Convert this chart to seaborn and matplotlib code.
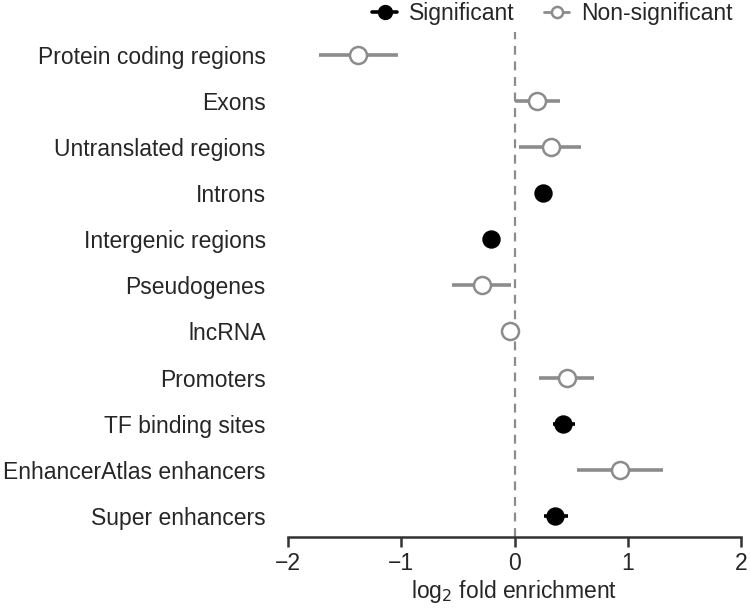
import pandas as pd
import matplotlib.pyplot as plt
import seaborn as sns
from matplotlib.lines import Line2D

sns.set_style("ticks")
plt.rcParams['font.family'] = ['Liberation Sans', 'DejaVu Sans']

# Data
categories = ["Protein coding regions", "Exons", "Untranslated regions", "Introns",
              "Intergenic regions", "Pseudogenes", "lncRNA", "Promoters",
              "TF binding sites", "EnhancerAtlas enhancers", "Super enhancers"]
log2_fe = [-1.38, 0.20, 0.32, 0.25, -0.21, -0.29, -0.04, 0.46, 0.43, 0.93, 0.36]
ci_low = [-1.73, 0.00, 0.04, 0.22, -0.24, -0.55, -0.07, 0.22, 0.34, 0.55, 0.26]
ci_high = [-1.03, 0.40, 0.59, 0.28, -0.18, -0.03, -0.01, 0.70, 0.53, 1.31, 0.47]
significant = [False, False, False, True, True, False, False, False, True, False, True]

df = pd.DataFrame({'category': categories, 'fe': log2_fe, 'lo': ci_low,
                   'hi': ci_high, 'sig': significant})
df['y'] = range(len(df))

gray = '#8c8c8c'
fs = 16.5
fig = plt.figure(figsize=(7.5, 6.14), dpi=100)
ax = fig.add_axes([0.384, 0.1254, 0.604, 0.8226])

ax.axvline(0, color=gray, lw=1.6, ls=(0, (4, 3)), zorder=1)

# error bars
for sig, color in [(False, gray), (True, 'black')]:
    sub = df[df['sig'] == sig]
    ax.hlines(sub['y'], sub['lo'], sub['hi'], color=color, lw=2.6, zorder=2)

# points
sns.scatterplot(data=df[~df['sig']], x='fe', y='y', ax=ax, s=150, marker='o',
                facecolor='white', edgecolor=gray, linewidth=1.8, zorder=3, legend=False)
sns.scatterplot(data=df[df['sig']], x='fe', y='y', ax=ax, s=150, marker='o',
                color='black', edgecolor='black', linewidth=1, zorder=3, legend=False)

ax.set_yticks(df['y'])
ax.set_yticklabels(df['category'], fontsize=fs, color='#262626')
ax.set_ylim(10.46, -0.5)
ax.set_xlim(-2, 2)
ax.set_xticks([-2, -1, 0, 1, 2])
ax.tick_params(axis='x', labelsize=fs, length=7, width=1.8, color='#333333',
               labelcolor='#262626', pad=4)
ax.tick_params(axis='y', length=0, pad=16)
ax.set_xlabel(r'log$_2$ fold enrichment', fontsize=fs, color='#262626', labelpad=2)
ax.set_ylabel('')
sns.despine(ax=ax, left=True)
ax.spines['bottom'].set_linewidth(1.8)
ax.spines['bottom'].set_color('#333333')

handles = [
    Line2D([], [], color='black', lw=2.6, marker='o', markersize=10,
           markerfacecolor='black', markeredgecolor='black'),
    Line2D([], [], color=gray, lw=2.0, marker='o', markersize=8,
           markerfacecolor='white', markeredgecolor=gray, markeredgewidth=1.8),
]
fig.legend(handles, ['Significant', 'Non-significant'], loc='upper right',
           bbox_to_anchor=(1.004, 1.031), ncol=2, frameon=False, fontsize=fs,
           handlelength=1.1, columnspacing=1.3, handletextpad=0.5)

plt.savefig('out.png', dpi=100)
plt.close()
